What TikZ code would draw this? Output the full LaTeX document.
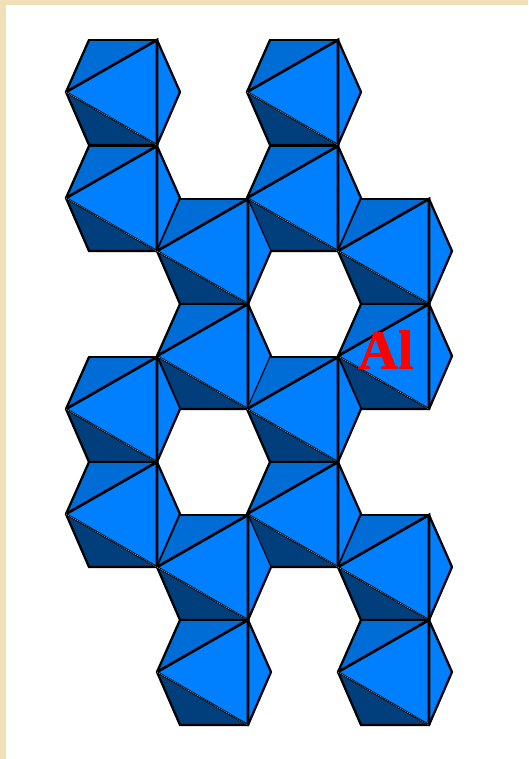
\documentclass[tikz,border=0pt]{standalone}
\usepackage{fontspec}
\setmainfont{Liberation Serif}
\usepackage{tikz}
\definecolor{framecol}{RGB}{241,223,184}
\definecolor{facemain}{RGB}{0,128,255}
\definecolor{facetop}{RGB}{0,108,214}
\definecolor{facelow}{RGB}{0,62,124}
\tikzset{
  edge/.style={draw=black, line width=1.3pt, line cap=round},
  shared/.style={draw=black, line width=0.6pt},
  bold/.style={draw=black, line width=1.5pt, line cap=round},
  seam/.style={draw=black, line width=1.05pt, line cap=round},
  seamtop/.style={draw=gray!60, line width=0.3pt, dash pattern=on 0.6pt off 0.6pt},
  allab/.style={font=\bfseries\fontsize{31.8}{32}\selectfont, text=red, inner sep=0pt, anchor=base west},
}
% one octahedron, #1 #2 = its left corner, #3 #4 #5 = styles of the three upper rim edges
\newcommand{\octa}[5]{
  \begin{scope}[shift={(#1,#2)}]
    \fill[facetop] (0,0) -- (23,-52) -- (91,-52) -- cycle;
    \fill[facelow] (0,0) -- (91,53) -- (23,53) -- cycle;
    \fill[facemain] (91,-52) -- (114,0) -- (91,53) -- cycle;
    \fill[facemain] (0,0) -- (91,-52) -- (91,53) -- cycle;
    \path[#3] (0,0) -- (23,-52);
    \path[#4] (23,-52) -- (91,-52);
    \path[#5] (91,-52) -- (114,0);
    \draw[edge] (114,0) -- (91,53) -- (23,53) -- (0,0);
    \draw[bold] (0,0) -- (91,-52) -- (91,53);
    \draw[seam] (0,0) -- (91,53);
    \draw[seamtop] (0,0) -- (91,53);
  \end{scope}
}
\begin{document}
\begin{tikzpicture}[x=0.02cm, y=-0.02cm]
  \useasboundingbox (0,0) rectangle (528,759);
  \fill[framecol] (0,0) rectangle (528,759);
  \fill[white] (6,5) rectangle (528,759);
  \foreach \px/\py/\sa/\sb/\sc in {
      66/92/edge/edge/edge, 247/92/edge/edge/edge,
      66/198/edge/seam/edge, 247/198/edge/seam/edge,
      157/251/shared/edge/shared, 338/251/shared/edge/edge,
      157/356/edge/seam/edge, 338/356/edge/seam/edge,
      66/409/edge/edge/shared, 247/409/shared/edge/shared,
      66/514/edge/seam/edge, 247/514/edge/seam/edge,
      157/567/shared/edge/shared, 338/567/shared/edge/edge,
      157/672/edge/seam/edge, 338/672/edge/seam/edge}
    \octa{\px}{\py}{\sa}{\sb}{\sc}
  \node[allab] (al) at (358,370) {Al};
\end{tikzpicture}
\end{document}
